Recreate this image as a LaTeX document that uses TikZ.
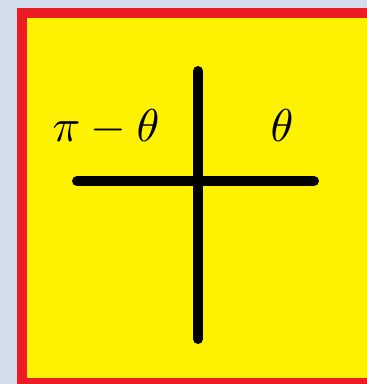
\documentclass[tikz,border=0pt]{standalone}
\usepackage{graphicx}
\begin{document}
\begin{tikzpicture}[x=1pt,y=-1pt,
  axis/.style={line width=10pt,line cap=round,black},
  lbl/.style={inner sep=0pt,anchor=base}]
\definecolor{bgblue}{HTML}{D3DEED}
\definecolor{frred}{HTML}{ED1C24}
\definecolor{fyel}{HTML}{FFF200}
\useasboundingbox (0,0) rectangle (367,384);
\fill[bgblue] (0,0) rectangle (367,384);
\fill[frred] (17,8) rectangle (367,384);
\fill[fyel] (27,18) rectangle (367,378);
\coordinate (hl) at (77,181);
\coordinate (hr) at (314,181);
\coordinate (vt) at (198,71);
\coordinate (vb) at (198,339);
\draw[axis] (hl) -- (hr);
\draw[axis] (vt) -- (vb);
\node[lbl] (left) at (106,141) {\scalebox{4.6}{$\pi-\theta$}};
\node[lbl] (right) at (282,141) {\scalebox{4.6}{$\theta$}};
\end{tikzpicture}
\end{document}
